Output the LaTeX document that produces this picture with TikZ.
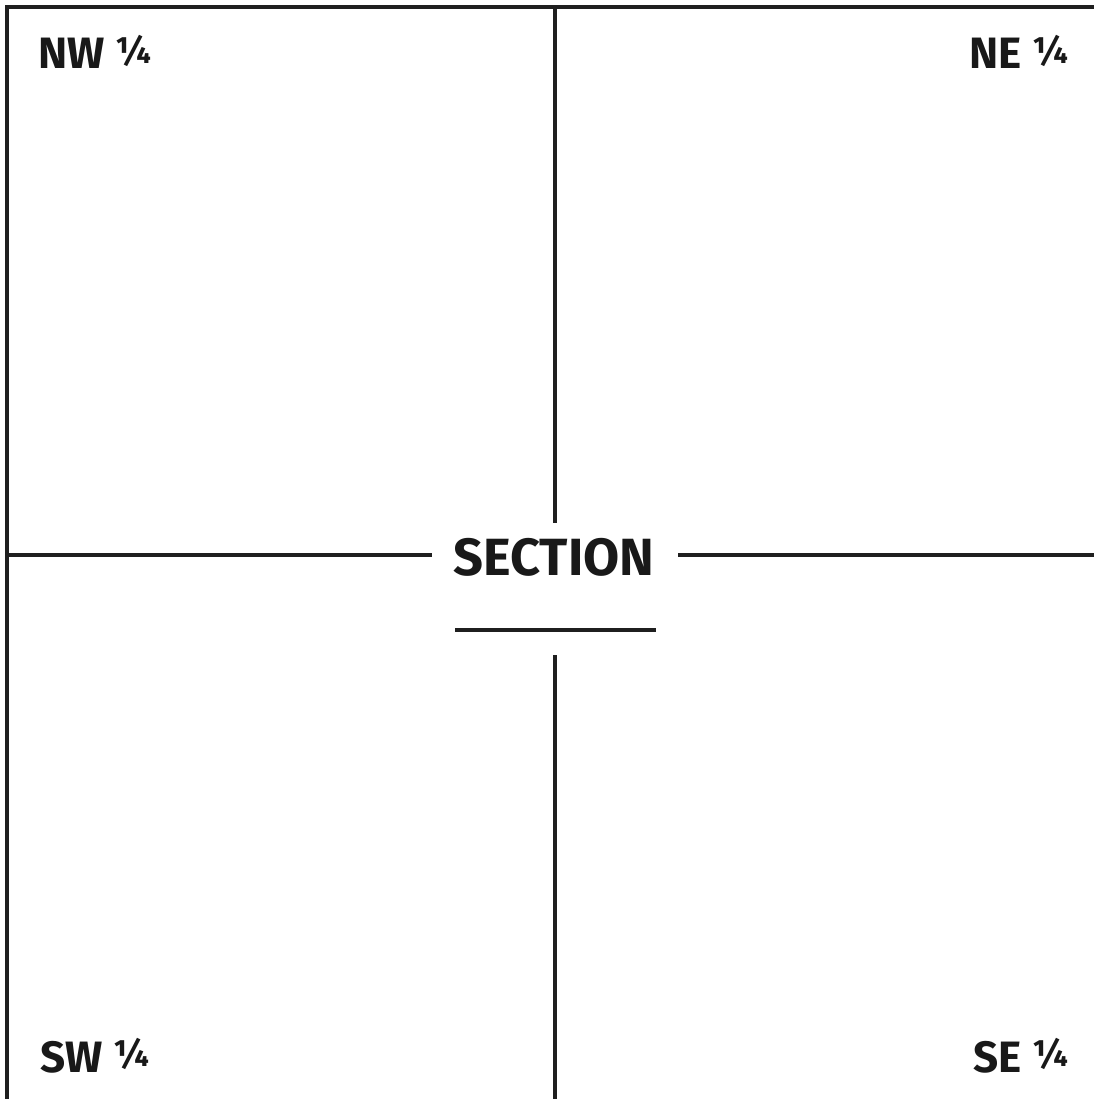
\documentclass[tikz,border=0pt]{standalone}
\usepackage{fontspec}
\setmainfont{Fira Sans}
\newcommand{\qtr}{\raisebox{1.6pt}{\fontsize{10.6}{12}\selectfont ¼}}
\begin{document}
\begin{tikzpicture}[x=0.1mm,y=-0.1mm,
    rule/.style={line width=1.35pt,draw=black!88},
    thinrule/.style={line width=0.95pt,draw=black!88},
    quarter/.style={inner sep=0pt,font=\fontsize{12.5}{14}\selectfont\bfseries,text=black!90},
    title/.style={inner sep=0pt,font=\fontsize{14.9}{17}\selectfont\bfseries,text=black!90}]
    \useasboundingbox (0,0) rectangle (1094,1099);
    % frame
    \coordinate (tl) at (7,7);
    \coordinate (tr) at (1094,7);
    \coordinate (bl) at (7,1099);
    \draw[rule,line cap=rect] (tr) -- (tl) -- (bl);
    % centre label
    \node[title,anchor=base] (sec) at (554,575) {SECTION};
    \coordinate (n) at (555,7);
    \coordinate (nend) at (555,523);
    \coordinate (s) at (555,1099);
    \coordinate (send) at (555,655);
    \coordinate (wend) at (432,555);
    \coordinate (w) at (7,555);
    \coordinate (eend) at (678,555);
    \coordinate (e) at (1094,555);
    \coordinate (ul) at (455,630);
    \coordinate (ur) at (656,630);
    \draw[rule] (n) -- (nend);
    \draw[rule] (send) -- (s);
    \draw[rule] (w) -- (wend);
    \draw[rule] (eend) -- (e);
    \draw[thinrule] (ul) -- (ur);
    % quarters
    \node[quarter,anchor=base west] (nw) at (38,69) {NW \qtr};
    \node[quarter,anchor=base east] (ne) at (1069,69) {NE \qtr};
    \node[quarter,anchor=base west] (sw) at (40,1072) {SW \qtr};
    \node[quarter,anchor=base east] (se) at (1069,1072) {SE \qtr};
\end{tikzpicture}
\end{document}
